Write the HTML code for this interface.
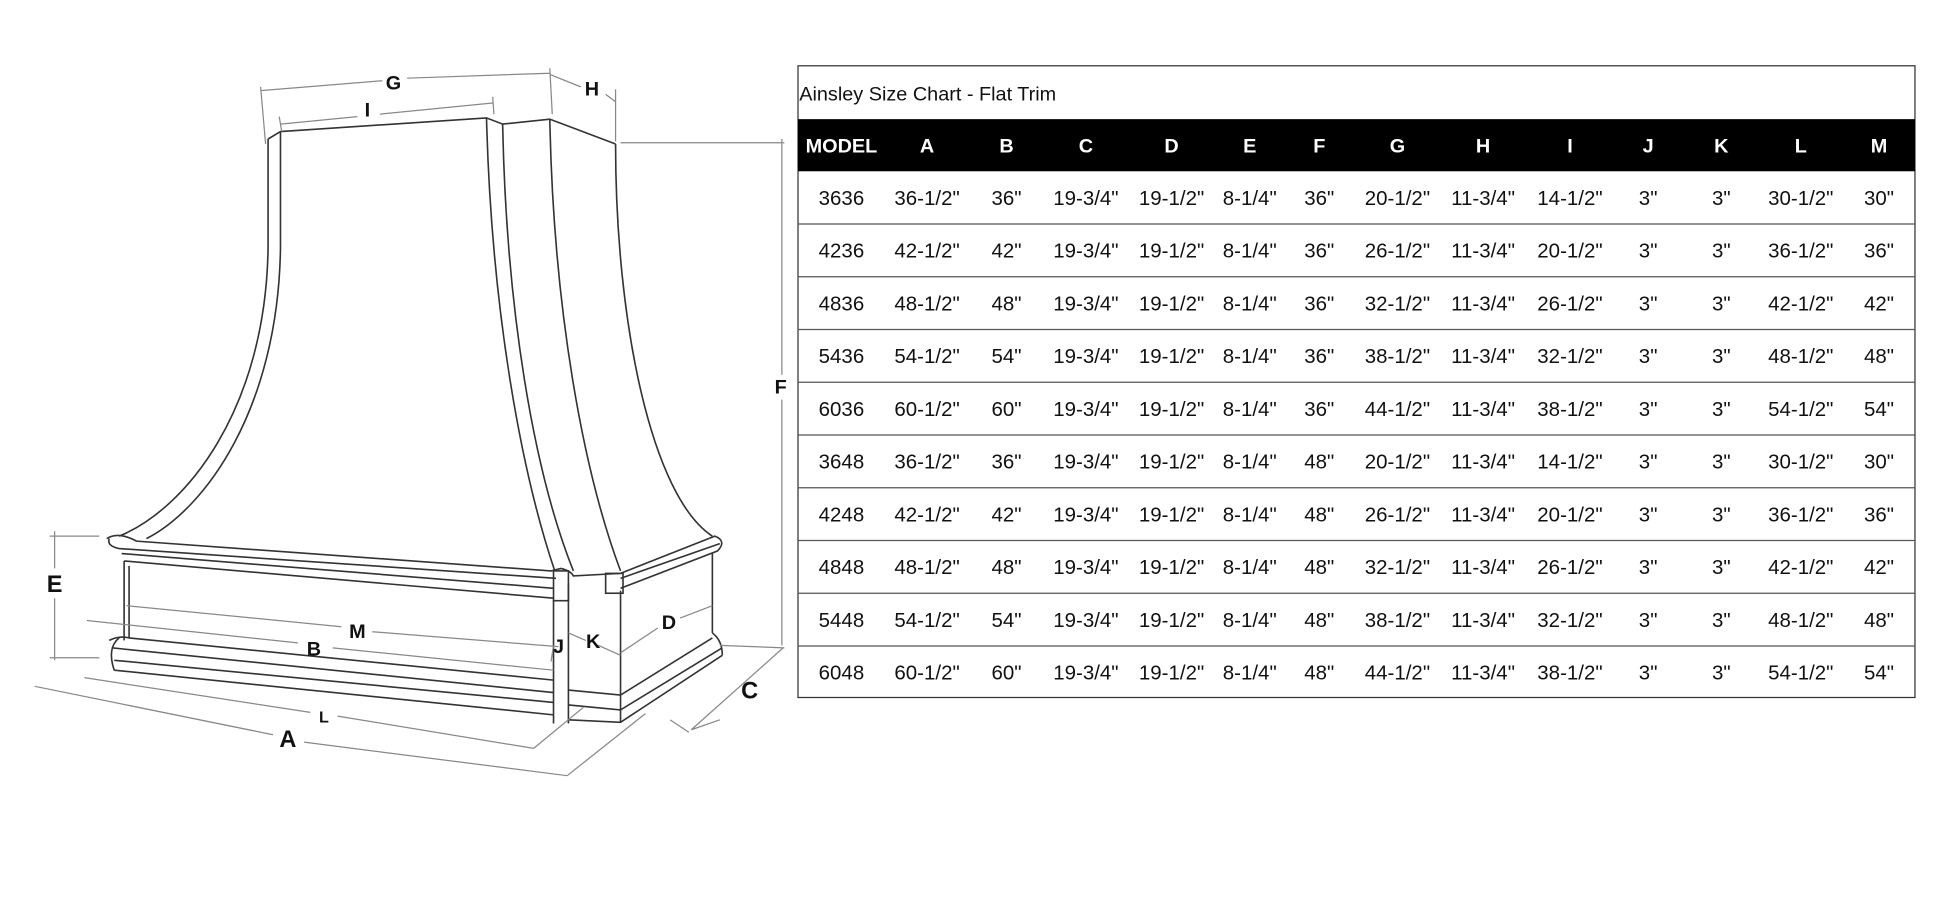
<!DOCTYPE html>
<html><head><meta charset="utf-8"><style>
html,body{margin:0;padding:0;background:#fff;width:1946px;height:906px;overflow:hidden}
svg{display:block}
.t{font-family:"Liberation Sans",sans-serif;font-size:16.5px;fill:#111;text-anchor:middle}
.h{font-family:"Liberation Sans",sans-serif;font-size:16px;font-weight:bold;fill:#fff;text-anchor:middle}
.lb{font-family:"Liberation Sans",sans-serif;font-weight:900;fill:#111;text-anchor:middle;font-size:16px}
.d{stroke:#888;stroke-width:1;fill:none}
.k{stroke:#333;stroke-width:1.3;fill:none}
</style></head><body>
<svg width="1946" height="906" viewBox="0 0 1568 730" preserveAspectRatio="none">
<!-- hood -->
<g class="k">
<path d="M216,112 L216,200 C214,330 150,410 96,432"/>
<path d="M226,106 L226,200 C224,330 165,410 118,434"/>
<path d="M216,112 L226,106 L392,95 L405,100 L443,96 L496,116"/>
<path d="M392,95 C396,250 420,380 447,460"/>
<path d="M405,100 C408,250 430,380 462,460"/>
<path d="M443,96 C446,250 470,380 500,460"/>
<path d="M496,116 C496,260 525,400 574,432"/>
<!-- cornice -->
<path d="M88,434 Q86,440 96,442 L448,466"/>
<path d="M86,434 Q95,428 110,436 L444,460 L452,458 Q460,460 462,464 L500,462 L576,432 Q586,436 578,444 L500,474"/>
<path d="M98,446 L446,474"/>
<path d="M100,452 L446,482"/>
<path d="M500,466 L580,438"/>
<rect x="446" y="460" width="12" height="24"/>
<rect x="488" y="462" width="14" height="16"/>
<!-- base -->
<path d="M100,452 L100,516"/>
<path d="M104,456 L104,514"/>
<path d="M446,484 L446,583"/>
<path d="M458,470 L458,583"/>
<path d="M500,476 L500,582"/>
<path d="M574,446 L574,510"/>
<path d="M88,516 Q96,512 104,514 L446,548"/>
<path d="M90,522 L446,558"/>
<path d="M92,532 L446,566"/>
<path d="M92,540 L446,576"/>
<path d="M458,556 L500,560 L574,514"/>
<path d="M458,568 L500,572 L582,522"/>
<path d="M458,580 L500,582 L582,528"/>
<path d="M574,510 Q582,516 582,528"/>
<path d="M96,514 Q86,522 92,540"/>
</g>
<!-- dimension lines -->
<g class="d">
<path d="M210,73 L308,65 M328,63 L443,59"/><path d="M210,70 L214,116 M443,55 L445,92"/>
<path d="M226,100 L288,94 M306,92 L397,83"/><path d="M225,94 L227,106 M397,78 L398,92"/>
<path d="M443,60 L468,70 M488,76 L496,82"/><path d="M496,72 L496,114"/>
<path d="M500,115 L632,115 M630,112 L630,302 M630,322 L630,520 M580,520 L632,522"/>
<path d="M631,522 L557,588 M580,580 L557,588"/>
<path d="M40,432 L80,432 M44,428 L44,458 M44,482 L44,532 M40,530 L80,530"/>
<path d="M102,488 L275,505 M300,509 L450,521"/>
<path d="M70,500 L240,518 M268,522 L446,540"/>
<path d="M28,553 L220,592 M245,598 L457,625"/>
<path d="M68,546 L250,574 M272,577 L430,603"/>
<path d="M457,625 L520,575 M430,603 L470,570 M555,590 L540,580"/>
<path d="M446,520 L444,533 M458,510 L472,516 M482,520 L500,528 M500,526 L530,506 M548,498 L574,488"/>
</g>
<g class="lb">
<text x="317" y="72">G</text><text x="296" y="94">I</text><text x="477" y="77">H</text>
<text x="629" y="317">F</text><text x="44" y="477" font-size="19">E</text>
<text x="288" y="514">M</text><text x="253" y="528">B</text><text x="450" y="526">J</text>
<text x="478" y="522">K</text><text x="539" y="507">D</text><text x="604" y="563" font-size="19">C</text>
<text x="261" y="582" font-size="13">L</text><text x="232" y="602" font-size="19">A</text>
</g>
<!-- table -->
<rect x="643" y="53" width="900" height="509" fill="none" stroke="#333" stroke-width="1"/>
<text x="644" y="81" style="font-family:'Liberation Sans',sans-serif;font-size:16px;fill:#111">Ainsley Size Chart - Flat Trim</text>
<rect x="643" y="96" width="900" height="42" fill="#000"/>
<g class="h">
<text x="678" y="123">MODEL</text><text x="747" y="123">A</text><text x="811" y="123">B</text><text x="875" y="123">C</text><text x="944" y="123">D</text><text x="1007" y="123">E</text><text x="1063" y="123">F</text><text x="1126" y="123">G</text><text x="1195" y="123">H</text><text x="1265" y="123">I</text><text x="1328" y="123">J</text><text x="1387" y="123">K</text><text x="1451" y="123">L</text><text x="1514" y="123">M</text>
</g>
<g stroke="#555" stroke-width="1">
<line x1="643" y1="180.5" x2="1543" y2="180.5"/><line x1="643" y1="223" x2="1543" y2="223"/><line x1="643" y1="265.5" x2="1543" y2="265.5"/><line x1="643" y1="308" x2="1543" y2="308"/><line x1="643" y1="350.5" x2="1543" y2="350.5"/><line x1="643" y1="393" x2="1543" y2="393"/><line x1="643" y1="435.5" x2="1543" y2="435.5"/><line x1="643" y1="478" x2="1543" y2="478"/><line x1="643" y1="520.5" x2="1543" y2="520.5"/>
</g>
<g class="t">
<g transform="translate(0,165)"><text x="678">3636</text><text x="747">36-1/2"</text><text x="811">36"</text><text x="875">19-3/4"</text><text x="944">19-1/2"</text><text x="1007">8-1/4"</text><text x="1063">36"</text><text x="1126">20-1/2"</text><text x="1195">11-3/4"</text><text x="1265">14-1/2"</text><text x="1328">3"</text><text x="1387">3"</text><text x="1451">30-1/2"</text><text x="1514">30"</text></g>
<g transform="translate(0,207.5)"><text x="678">4236</text><text x="747">42-1/2"</text><text x="811">42"</text><text x="875">19-3/4"</text><text x="944">19-1/2"</text><text x="1007">8-1/4"</text><text x="1063">36"</text><text x="1126">26-1/2"</text><text x="1195">11-3/4"</text><text x="1265">20-1/2"</text><text x="1328">3"</text><text x="1387">3"</text><text x="1451">36-1/2"</text><text x="1514">36"</text></g>
<g transform="translate(0,250)"><text x="678">4836</text><text x="747">48-1/2"</text><text x="811">48"</text><text x="875">19-3/4"</text><text x="944">19-1/2"</text><text x="1007">8-1/4"</text><text x="1063">36"</text><text x="1126">32-1/2"</text><text x="1195">11-3/4"</text><text x="1265">26-1/2"</text><text x="1328">3"</text><text x="1387">3"</text><text x="1451">42-1/2"</text><text x="1514">42"</text></g>
<g transform="translate(0,292.5)"><text x="678">5436</text><text x="747">54-1/2"</text><text x="811">54"</text><text x="875">19-3/4"</text><text x="944">19-1/2"</text><text x="1007">8-1/4"</text><text x="1063">36"</text><text x="1126">38-1/2"</text><text x="1195">11-3/4"</text><text x="1265">32-1/2"</text><text x="1328">3"</text><text x="1387">3"</text><text x="1451">48-1/2"</text><text x="1514">48"</text></g>
<g transform="translate(0,335)"><text x="678">6036</text><text x="747">60-1/2"</text><text x="811">60"</text><text x="875">19-3/4"</text><text x="944">19-1/2"</text><text x="1007">8-1/4"</text><text x="1063">36"</text><text x="1126">44-1/2"</text><text x="1195">11-3/4"</text><text x="1265">38-1/2"</text><text x="1328">3"</text><text x="1387">3"</text><text x="1451">54-1/2"</text><text x="1514">54"</text></g>
<g transform="translate(0,377.5)"><text x="678">3648</text><text x="747">36-1/2"</text><text x="811">36"</text><text x="875">19-3/4"</text><text x="944">19-1/2"</text><text x="1007">8-1/4"</text><text x="1063">48"</text><text x="1126">20-1/2"</text><text x="1195">11-3/4"</text><text x="1265">14-1/2"</text><text x="1328">3"</text><text x="1387">3"</text><text x="1451">30-1/2"</text><text x="1514">30"</text></g>
<g transform="translate(0,420)"><text x="678">4248</text><text x="747">42-1/2"</text><text x="811">42"</text><text x="875">19-3/4"</text><text x="944">19-1/2"</text><text x="1007">8-1/4"</text><text x="1063">48"</text><text x="1126">26-1/2"</text><text x="1195">11-3/4"</text><text x="1265">20-1/2"</text><text x="1328">3"</text><text x="1387">3"</text><text x="1451">36-1/2"</text><text x="1514">36"</text></g>
<g transform="translate(0,462.5)"><text x="678">4848</text><text x="747">48-1/2"</text><text x="811">48"</text><text x="875">19-3/4"</text><text x="944">19-1/2"</text><text x="1007">8-1/4"</text><text x="1063">48"</text><text x="1126">32-1/2"</text><text x="1195">11-3/4"</text><text x="1265">26-1/2"</text><text x="1328">3"</text><text x="1387">3"</text><text x="1451">42-1/2"</text><text x="1514">42"</text></g>
<g transform="translate(0,505)"><text x="678">5448</text><text x="747">54-1/2"</text><text x="811">54"</text><text x="875">19-3/4"</text><text x="944">19-1/2"</text><text x="1007">8-1/4"</text><text x="1063">48"</text><text x="1126">38-1/2"</text><text x="1195">11-3/4"</text><text x="1265">32-1/2"</text><text x="1328">3"</text><text x="1387">3"</text><text x="1451">48-1/2"</text><text x="1514">48"</text></g>
<g transform="translate(0,547.5)"><text x="678">6048</text><text x="747">60-1/2"</text><text x="811">60"</text><text x="875">19-3/4"</text><text x="944">19-1/2"</text><text x="1007">8-1/4"</text><text x="1063">48"</text><text x="1126">44-1/2"</text><text x="1195">11-3/4"</text><text x="1265">38-1/2"</text><text x="1328">3"</text><text x="1387">3"</text><text x="1451">54-1/2"</text><text x="1514">54"</text></g>
</g>
</svg>
</body></html>
